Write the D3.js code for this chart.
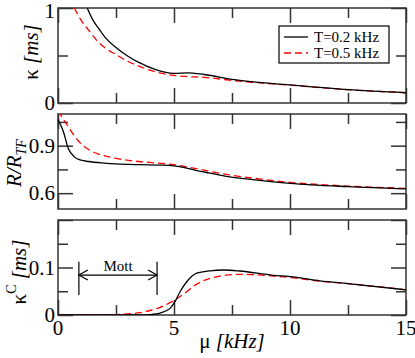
<!DOCTYPE html>
<html>
<head>
<meta charset="utf-8">
<script src="https://cdn.jsdelivr.net/npm/d3@7"></script>
<style>
  body { margin: 0; background: #fff; }
  svg text { font-family: "Liberation Serif", "Times New Roman", serif; }
</style>
</head>
<body>
<div id="data-viz"></div>
<script>

// values, mu in kHz
var kappaMuLow = [1.26, 1.5, 1.75, 2.03, 2.5, 3.0, 3.46, 4.18, 4.6, 5.0, 5.6, 6.3, 7.6, 10, 12.5, 15]
var kappaLow = [1.0, 0.875, 0.785, 0.69, 0.585, 0.495, 0.43, 0.355, 0.325, 0.312, 0.318, 0.3, 0.245, 0.19, 0.14, 0.108]
var kappaMuHigh = [0.7, 1.0, 1.31, 1.65, 2.03, 2.5, 3.0, 3.46, 4.18, 5.0, 5.6, 6.3, 7.6, 10, 12.5, 15]
var kappaHigh = [1.0, 0.87, 0.77, 0.665, 0.58, 0.51, 0.44, 0.39, 0.33, 0.29, 0.278, 0.27, 0.235, 0.188, 0.14, 0.108]

var radiusMuLow = [0, 0.23, 0.44, 0.73, 1.0, 1.31, 2.0, 2.5, 3.5, 4.5, 5.0, 5.5, 5.9, 6.5, 7.2, 8.5, 10, 12.5, 15]
var radiusLow = [1.065, 0.99, 0.883, 0.826, 0.808, 0.8, 0.79, 0.785, 0.78, 0.777, 0.772, 0.76, 0.746, 0.728, 0.708, 0.684, 0.662, 0.641, 0.627]
var radiusMuHigh = [0, 0.44, 0.73, 1.0, 1.31, 1.65, 2.03, 2.5, 3.46, 4.3, 5.0, 5.9, 7.2, 8.5, 10, 12.5, 15]
var radiusHigh = [1.12, 1.02, 0.957, 0.91, 0.877, 0.852, 0.835, 0.82, 0.8, 0.79, 0.78, 0.757, 0.72, 0.693, 0.668, 0.645, 0.63]

var kappaCMuLow = [0, 3.5, 4.0, 4.4, 4.83, 5.04, 5.26, 5.55, 5.98, 6.55, 7.13, 7.84, 9.28, 10, 11.3, 12.5, 15]
var kappaCLow = [0, 0, 0.001, 0.004, 0.014, 0.028, 0.049, 0.07, 0.088, 0.093, 0.0947, 0.0926, 0.0835, 0.081, 0.072, 0.066, 0.053]
var kappaCMuHigh = [0, 2.0, 2.6, 3.2, 3.53, 4.0, 4.4, 5.04, 5.55, 5.98, 6.55, 7.13, 7.84, 9.28, 10, 11.3, 12.5, 15]
var kappaCHigh = [0, 0, 0.001, 0.003, 0.005, 0.01, 0.016, 0.032, 0.049, 0.065, 0.077, 0.083, 0.0856, 0.082, 0.079, 0.071, 0.066, 0.053]

var seriesNames = ["T=0.2 kHz", "T=0.5 kHz"]
var xMajor = [0, 5, 10, 15]
var xMinor = [2.5, 7.5, 12.5]
var mottRange = [0.9, 4.27]

var width = 415, height = 358
var left = 58, right = 406
var rowTops = [8, 114, 220], rowHeight = 95

var panels = [
    { domain: [0, 1], major: [0, 1], minor: [0.5], labels: ["0", "1"],
      low: [kappaMuLow, kappaLow], high: [kappaMuHigh, kappaHigh] },
    { domain: [0.5, 1.1], major: [0.6, 0.9], minor: [0.75, 1.05], labels: ["0.6", "0.9"],
      low: [radiusMuLow, radiusLow], high: [radiusMuHigh, radiusHigh] },
    { domain: [0, 0.2], major: [0, 0.1, 0.2], minor: [0.05, 0.15], labels: ["0", "0.1", ""],
      low: [kappaCMuLow, kappaCLow], high: [kappaCMuHigh, kappaCHigh] }
]

var frameColour = "#333"

var svg = d3.select("#data-viz").append("svg")
    .attr("width", width)
    .attr("height", height)

var x = d3.scaleLinear().domain([0, 15]).range([left, right])

panels.forEach(function(p, i) {

    var top = rowTops[i], bottom = top + rowHeight

    var y = d3.scaleLinear().domain(p.domain).range([bottom, top])
    p.y = y

    var g = svg.append("g")

    svg.append("clipPath").attr("id", "clip" + i)
        .append("rect")
        .attr("x", left).attr("y", top)
        .attr("width", right - left).attr("height", rowHeight)

    // ticks on all four sides, pointing inwards
    var sides = [
        { axis: d3.axisBottom(x), at: bottom, vals: [xMajor, xMinor] },
        { axis: d3.axisTop(x), at: top, vals: [xMajor, xMinor] },
        { axis: d3.axisLeft(y), at: left, vals: [p.major, p.minor] },
        { axis: d3.axisRight(y), at: right, vals: [p.major, p.minor] }
    ]

    sides.forEach(function(s, k) {
        [15, 10].forEach(function(len, j) {
            var a = s.axis.tickValues(s.vals[j]).tickSize(-len).tickFormat("")
            var t = g.append("g")
                .attr("transform", k < 2 ? "translate(0," + s.at + ")" : "translate(" + s.at + ",0)")
                .call(a)
            t.select(".domain").remove()
            t.selectAll(".tick line").attr("stroke", frameColour).attr("stroke-width", 1.5)
        })
    })

    g.append("rect")
        .attr("x", left).attr("y", top)
        .attr("width", right - left).attr("height", rowHeight)
        .attr("fill", "none")
        .attr("stroke", frameColour)
        .attr("stroke-width", 1.5)

    // y tick labels, kept inside the picture at the top
    g.selectAll(".ylab").data(p.major).enter().append("text")
        .attr("x", 55)
        .attr("y", d => Math.max(y(d) + 7, 18))
        .attr("text-anchor", "end")
        .attr("font-size", 21)
        .text((d, j) => p.labels[j])

    var line = d3.line()
        .x(d => x(d[0]))
        .y(d => y(d[1]))
        .curve(d3.curveMonotoneX)

    var curves = svg.append("g").attr("clip-path", "url(#clip" + i + ")")

    curves.append("path")
        .datum(d3.zip(p.high[0], p.high[1]))
        .attr("d", line)
        .attr("fill", "none")
        .attr("stroke", "#f00")
        .attr("stroke-width", 1.3)
        .attr("stroke-dasharray", "7,4")

    curves.append("path")
        .datum(d3.zip(p.low[0], p.low[1]))
        .attr("d", line)
        .attr("fill", "none")
        .attr("stroke", "#000")
        .attr("stroke-width", 1.3)

})

// x tick labels (bottom panel only)
svg.selectAll(".xlab").data(xMajor).enter().append("text")
    .attr("x", d => x(d))
    .attr("y", 335)
    .attr("text-anchor", "middle")
    .attr("font-size", 21)
    .text(d => d)

// axis titles
var xt = svg.append("text")
    .attr("x", x(7.5))
    .attr("y", 348)
    .attr("text-anchor", "middle")
    .attr("font-size", 21)
xt.append("tspan").text("\u03bc ")
xt.append("tspan").attr("font-style", "italic").text("[kHz]")

var yt1 = svg.append("text")
    .attr("transform", "translate(38,52) rotate(-90)")
    .attr("text-anchor", "middle")
    .attr("font-size", 21)
yt1.append("tspan").text("\u03ba ")
yt1.append("tspan").attr("font-style", "italic").text("[ms]")

var yt2 = svg.append("text")
    .attr("transform", "translate(21,163) rotate(-90)")
    .attr("text-anchor", "middle")
    .attr("font-size", 21)
    .attr("font-style", "italic")
yt2.append("tspan").text("R/R")
yt2.append("tspan").attr("font-size", 14).attr("dy", 5).text("TF")

var yt3 = svg.append("text")
    .attr("transform", "translate(26,272) rotate(-90)")
    .attr("text-anchor", "middle")
    .attr("font-size", 21)
yt3.append("tspan").text("\u03ba")
yt3.append("tspan").attr("font-size", 14).attr("dy", -10).text("C")
yt3.append("tspan").attr("dy", 10).text(" ")
yt3.append("tspan").attr("font-style", "italic").text("[ms]")

// Mott annotation in the bottom panel
var yC = panels[2].y
var mott = svg.append("g").attr("stroke", "#000").attr("stroke-width", 1.2).attr("fill", "none")
mottRange.forEach(function(m) {
    mott.append("line")
        .attr("x1", x(m)).attr("x2", x(m))
        .attr("y1", yC(0.112)).attr("y2", yC(0.042))
})
var ay = yC(0.084)
mott.append("line")
    .attr("x1", x(mottRange[0])).attr("x2", x(mottRange[1]))
    .attr("y1", ay).attr("y2", ay)
mott.append("path")
    .attr("d", "M" + (x(mottRange[0]) + 9) + "," + (ay - 5) + "L" + x(mottRange[0]) + "," + ay + "L" + (x(mottRange[0]) + 9) + "," + (ay + 5))
mott.append("path")
    .attr("d", "M" + (x(mottRange[1]) - 9) + "," + (ay - 5) + "L" + x(mottRange[1]) + "," + ay + "L" + (x(mottRange[1]) - 9) + "," + (ay + 5))
svg.append("text")
    .attr("x", (x(mottRange[0]) + x(mottRange[1])) / 2)
    .attr("y", ay - 4)
    .attr("text-anchor", "middle")
    .attr("font-size", 15)
    .text("Mott")

// legend
var legend = svg.append("g")
legend.append("rect")
    .attr("x", 279).attr("y", 26)
    .attr("width", 110).attr("height", 37)
    .attr("fill", "#fff")
    .attr("stroke", "#000")
    .attr("stroke-width", 1.2)

seriesNames.forEach(function(name, i) {
    var ly = 37 + i * 16
    legend.append("line")
        .attr("x1", 284).attr("x2", 308)
        .attr("y1", ly).attr("y2", ly)
        .attr("stroke", i === 0 ? "#000" : "#f00")
        .attr("stroke-width", 1.3)
        .attr("stroke-dasharray", i === 0 ? null : "7,4")
    legend.append("text")
        .attr("x", 314)
        .attr("y", ly + 5)
        .attr("font-size", 15)
        .text(name)
})

</script>
</body>
</html>
